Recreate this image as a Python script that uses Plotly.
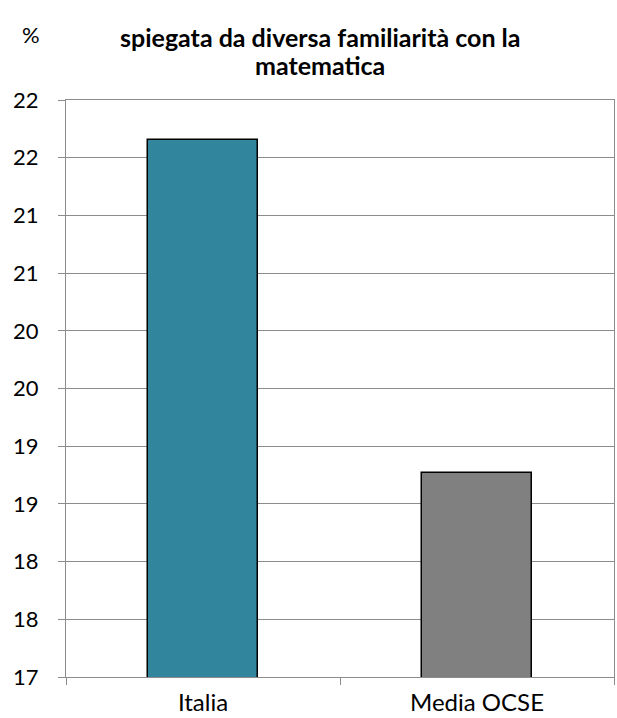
import plotly.graph_objects as go

categories = ["Italia", "Media OCSE"]
values = [21.65, 18.77]
colors = ["#31859C", "#808080"]
title_lines = ["spiegata da diversa familiarità con la", "matematica"]
unit_label = "%"

W, H = 617, 718
L, R, T, B = 66, 3, 100, 41
ph = H - T - B

def py(y):
    return (H - B - y) / ph

def px(x):
    return (x - L) / (W - L - R)

fig = go.Figure()
fig.add_trace(go.Bar(
    x=categories, y=values, width=0.405,
    marker=dict(color=colors, line=dict(color="#000000", width=1.5)),
))

font_family = "Lato, 'Open Sans', sans-serif"
annotations = []
for i, (line, yc) in enumerate(zip(title_lines, [37, 65])):
    annotations.append(dict(
        text="<b>" + line + "</b>", x=px(320), y=py(yc), xref="paper", yref="paper",
        xanchor="center", yanchor="middle", showarrow=False,
        font=dict(family=font_family, size=25, color="#000000")))
annotations.append(dict(
    text=unit_label, x=px(31), y=py(34), xref="paper", yref="paper",
    xanchor="center", yanchor="middle", showarrow=False,
    font=dict(family=font_family, size=22, color="#000000")))

fig.update_layout(
    width=W, height=H,
    margin=dict(l=L, r=R, t=T, b=B, pad=0),
    paper_bgcolor="white", plot_bgcolor="white",
    showlegend=False,
    annotations=annotations,
    font=dict(family=font_family, size=24, color="#000000"),
    bargap=0,
)
fig.update_yaxes(
    range=[17, 22], dtick=0.5, tick0=17, tickformat=".0f",
    showgrid=True, gridcolor="#8C8C8C", gridwidth=1,
    showline=True, linecolor="#8C8C8C", linewidth=1, mirror=True,
    ticks="outside", ticklen=7, tickcolor="#8C8C8C",
    zeroline=False, tickfont=dict(size=22), ticklabelstandoff=15,
)
fig.update_xaxes(
    showline=True, linecolor="#8C8C8C", linewidth=1, mirror=True,
    ticks="outside", ticklen=7, tickcolor="#8C8C8C", tickson="boundaries",
    showgrid=False, tickfont=dict(size=24), ticklabelstandoff=4,
)

fig.write_html("out.html")
